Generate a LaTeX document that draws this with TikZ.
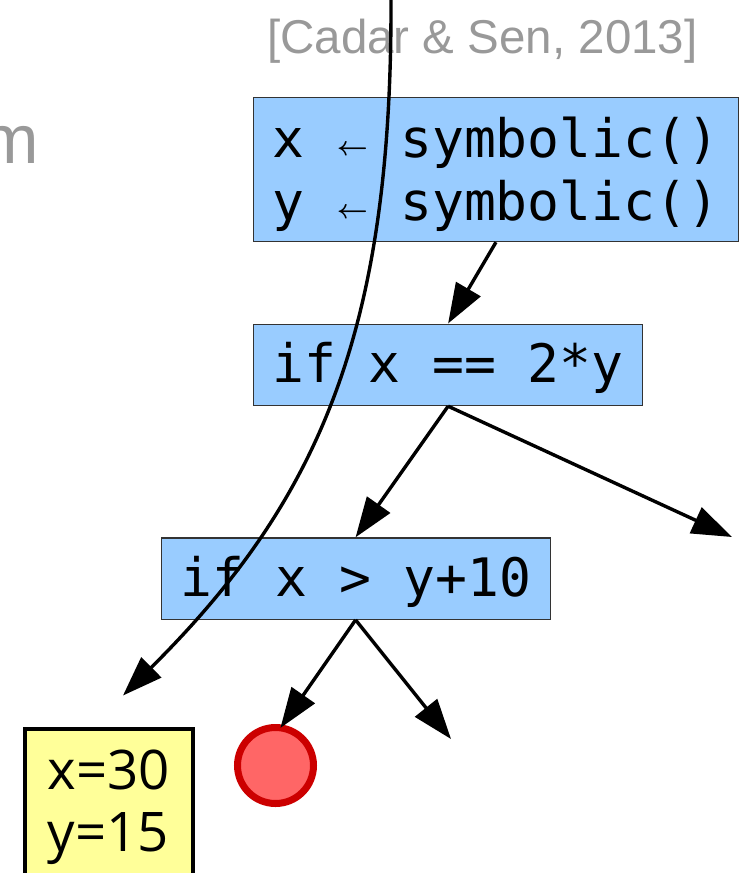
\documentclass[tikz,border=0pt]{standalone}
\usepackage{fontspec}
\usepackage{graphicx}
\setmainfont{Liberation Sans}
\newfontfamily\codefont{DejaVu Sans Mono}
\newfontfamily\valfont{Open Sans}
\usetikzlibrary{arrows.meta}
\definecolor{boxblue}{HTML}{99CCFF}
\definecolor{boxedge}{HTML}{333333}
\definecolor{citegray}{HTML}{999999}
\definecolor{valyellow}{HTML}{FFFF99}
\definecolor{endfill}{HTML}{FF6666}
\definecolor{endedge}{HTML}{CC0000}
\newcommand{\larr}{\makebox[0.6021em]{\raisebox{2pt}{\resizebox{31pt}{!}{\boldmath$\leftarrow$}}}}
\begin{document}
\begin{tikzpicture}[x=1pt,y=-1pt,
  citetext/.style={text=citegray, font=\fontsize{47.5}{50}\selectfont, inner sep=0pt},
  codebox/.style={draw=boxedge, line width=1.2pt, fill=boxblue, inner xsep=19pt, inner ysep=0pt,
    font=\codefont\fontsize{53}{63}\selectfont, anchor=north west},
  valbox/.style={draw=black, line width=4pt, fill=valyellow, inner xsep=0pt, inner ysep=0pt,
    font=\valfont\fontsize{54.6}{62}\selectfont, anchor=north west},
  endnode/.style={circle, draw=endedge, fill=endfill, line width=7pt, minimum size=76pt, inner sep=0pt},
  arr/.style={line width=3.4pt, -{Triangle[length=40pt,width=28pt]}}
]
\useasboundingbox (0,0) rectangle (740,873);

\node[citetext, anchor=base west] (cite) at (267,53) {[Cadar \& Sen, 2013]};
\node[citetext, font=\fontsize{69}{72}\selectfont, anchor=base east] (m) at (39,163) {m};

\node[codebox, text height=123pt, text depth=21pt] (b1) at (253,97)
  {\vbox{\baselineskip=63pt\lineskiplimit=-100pt\hbox{x \larr\ symbolic()}\hbox{y \larr\ symbolic()}}};
\node[codebox, text height=58.5pt, text depth=23pt] (b2) at (253,323.5) {if x == 2*y};
\node[codebox, text height=58.7pt, text depth=22.7pt] (b3) at (160.5,537.3) {if x > y+10};

\node[valbox, minimum width=168pt, text height=122pt, text depth=36pt] (v) at (23,727)
  {\vbox{\baselineskip=62pt\lineskiplimit=-100pt\hbox{x=30}\hbox{y=15}}};

\node[endnode] (c) at (275.5,765.5) {};

\coordinate (r1) at (732,537);
\coordinate (r2) at (451,739);
\coordinate (top) at (391,0);
\coordinate (v1) at (123,695.5);

\draw[arr] (b1.south) -- (b2.north);
\draw[arr] (b2.south) -- (b3.north);
\draw[arr] (b2.south) -- (r1);
\draw[arr, shorten >=-4pt] (b3.south) -- (c.80);
\draw[arr] (b3.south) -- (r2);
\draw[arr] (top) .. controls (392,330) and (320,500) .. (v1);
\end{tikzpicture}
\end{document}
